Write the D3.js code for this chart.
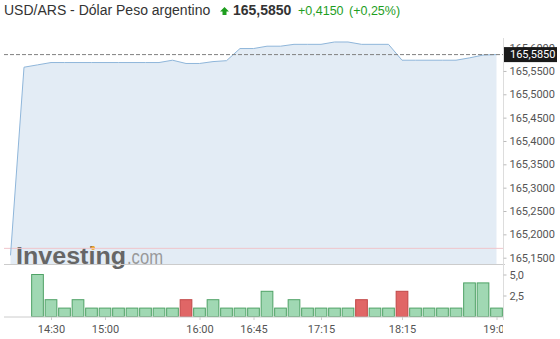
<!DOCTYPE html>
<html>
<head>
<meta charset="utf-8">
<script src="https://cdn.jsdelivr.net/npm/d3@7"></script>
<style>
  body { margin: 0; background: #fff; }
  svg { display: block; }
</style>
</head>
<body>
<script>
// size of the page
const w = 560;
const h = 339;

// data (one point per interval, index based x axis)
const prices = [165.155, 165.558, 165.563, 165.568, 165.568, 165.568, 165.568, 165.568,
  165.568, 165.568, 165.568, 165.568, 165.573, 165.566, 165.566, 165.570, 165.572,
  165.598, 165.598, 165.603, 165.603, 165.607, 165.607, 165.607, 165.612, 165.612,
  165.607, 165.607, 165.607, 165.573, 165.573, 165.573, 165.573, 165.573, 165.578,
  165.584, 165.585];
const volumes = [null, null, 5, 2, 1, 2, 1, 1, 1, 1, 1, 1, 1, 2, 1, 2, 1, 1, 1, 3, 1, 2,
  1, 1, 1, 1, 2, 1, 1, 3, 1, 1, 1, 1, 4, 4, 1];
const timeTicks = [3, 7, 14, 18, 23, 29, 36];
const timeLabels = ["14:30", "15:00", "16:00", "16:45", "17:15", "18:15", "19:00"];
const priceTicks = [165.15, 165.20, 165.25, 165.30, 165.35, 165.40, 165.45, 165.50, 165.55, 165.60];
const volTicks = [2.5, 5.0];
const lastPrice = 165.585;
const prevClose = 165.17;
const title = "USD/ARS - Dólar Peso argentino";
const change = "+0,4150";
const changePct = "(+0,25%)";

const loc = d3.formatLocale({decimal: ",", thousands: ".", grouping: [3], currency: ["", ""]});
const f4 = loc.format(".4f");
const f1 = loc.format(".1f");

const svg = d3.select("body").append("svg")
  .attr("width", w)
  .attr("height", h);

// scales
const left = 4, right = 503;
const x = d3.scaleLinear().domain([0, prices.length - 1]).range([10.5, 496.5]);
const y = d3.scaleLinear().domain([165.15, 165.60]).range([257.7, 47.6]);
const vy = d3.scaleLinear().domain([0, 5]).range([316.5, 274.5]);
const mainBottom = 264;

// header
const head = svg.append("g").style("font-family", "Arial, 'Liberation Sans', sans-serif").style("font-size", "14px");
head.append("text").attr("x", 4).attr("y", 15).attr("fill", "#333").text(title);
head.append("path")
  .attr("d", "M224.5,7 L229,11.5 L226.5,11.5 L226.5,15 L222.5,15 L222.5,11.5 L220,11.5 Z")
  .attr("fill", "#1e9e1e");
head.append("text").attr("x", 233).attr("y", 15).attr("fill", "#333").attr("font-weight", "bold").text(f4(lastPrice));
head.append("text").attr("x", 298).attr("y", 15).attr("fill", "#1e9e1e").style("font-size", "12.5px").text(change);
head.append("text").attr("x", 349).attr("y", 15).attr("fill", "#1e9e1e").style("font-size", "12.5px").text(changePct);

// area + line
const area = d3.area()
  .x((d, i) => x(i))
  .y0(mainBottom)
  .y1(d => y(d));
const line = d3.line()
  .x((d, i) => x(i))
  .y(d => y(d));

svg.append("path")
  .datum(prices)
  .attr("d", area)
  .attr("fill", "#e3ecf5");

// watermark logo
const logo = svg.append("g").style("font-family", "Arial, 'Liberation Sans', sans-serif");
logo.append("text").attr("x", 16).attr("y", 264).attr("font-size", "23px").attr("font-weight", "bold")
  .attr("fill", "#666").attr("textLength", 110).attr("lengthAdjust", "spacingAndGlyphs").text("Investing");
logo.append("text").attr("x", 127).attr("y", 264).attr("font-size", "20px")
  .attr("fill", "#999").attr("textLength", 36).attr("lengthAdjust", "spacingAndGlyphs").text(".com");
logo.append("circle").attr("cx", 93).attr("cy", 248).attr("r", 2).attr("fill", "#f5a623");

// previous close
svg.append("line")
  .attr("x1", left).attr("x2", right)
  .attr("y1", y(prevClose)).attr("y2", y(prevClose))
  .attr("stroke", "#f0c6cb").attr("stroke-width", 1);

svg.append("path")
  .datum(prices)
  .attr("d", line)
  .attr("fill", "none")
  .attr("stroke", "#8fb6da")
  .attr("stroke-width", 1);

// current price dashed line
svg.append("line")
  .attr("x1", left).attr("x2", right)
  .attr("y1", y(lastPrice)).attr("y2", y(lastPrice))
  .attr("stroke", "#808080").attr("stroke-dasharray", "4,2");

// frame lines
svg.append("line").attr("x1", left).attr("x2", 505).attr("y1", mainBottom + 0.5).attr("y2", mainBottom + 0.5).attr("stroke", "#ccc");
svg.append("line").attr("x1", 503.5).attr("x2", 503.5).attr("y1", 38).attr("y2", 320).attr("stroke", "#ddd");

// price axis
const yAxis = d3.axisRight(y).tickValues(priceTicks).tickFormat(f4).tickSize(3).tickPadding(3);
const gy = svg.append("g")
  .attr("transform", "translate(503.5,0)")
  .call(yAxis);
gy.select(".domain").remove();
gy.selectAll("line").attr("stroke", "#bbb");
gy.selectAll("text").attr("fill", "#555").style("font-family", "Roboto, Arial, sans-serif").style("font-size", "11px");

// last price label
const lab = svg.append("g").attr("transform", `translate(504,${y(lastPrice)})`);
lab.append("rect").attr("x", 0).attr("y", -7.5).attr("width", 53).attr("height", 15).attr("fill", "#1a1a1a");
lab.append("text").attr("x", 6).attr("y", 0).attr("dy", "0.35em").attr("fill", "#fff")
  .style("font-family", "Roboto, Arial, sans-serif").style("font-size", "11px").text(f4(lastPrice));

// volume bars
const bw = 11.7;
const vdata = volumes.map((v, i) => ({i: i, v: v, up: i === 0 || prices[i] >= prices[i - 1]}))
  .filter(d => d.v !== null);
svg.selectAll("rect.vol")
  .data(vdata)
  .enter()
  .append("rect")
  .attr("class", "vol")
  .attr("x", d => x(d.i) - bw / 2)
  .attr("y", d => vy(d.v))
  .attr("width", bw)
  .attr("height", d => vy(0) - vy(d.v))
  .attr("fill", d => d.up ? "#a0d8b3" : "#e06666")
  .attr("stroke", d => d.up ? "#4fa266" : "#c14848")
  .attr("stroke-width", 1);

svg.append("line").attr("x1", left).attr("x2", right).attr("y1", vy(0) + 0.5).attr("y2", vy(0) + 0.5).attr("stroke", "#ccc");

const vAxis = d3.axisRight(vy).tickValues(volTicks).tickFormat(f1).tickSize(3).tickPadding(3);
const gv = svg.append("g").attr("transform", "translate(503.5,0)").call(vAxis);
gv.select(".domain").remove();
gv.selectAll("line").attr("stroke", "#bbb");
gv.selectAll("text").attr("fill", "#555").style("font-family", "Roboto, Arial, sans-serif").style("font-size", "11px");

// time axis (clipped like the original)
svg.append("clipPath").attr("id", "clipx")
  .append("rect").attr("x", 0).attr("y", 300).attr("width", 503).attr("height", 39);
const xAxis = d3.axisBottom(x).tickValues(timeTicks).tickFormat((d, i) => timeLabels[i]).tickSize(3).tickPadding(5);
const gx = svg.append("g")
  .attr("clip-path", "url(#clipx)")
  .append("g")
  .attr("transform", `translate(0,${vy(0) + 0.5})`)
  .call(xAxis);
gx.select(".domain").remove();
gx.selectAll("line").attr("stroke", "#ccc");
gx.selectAll("text").attr("fill", "#555").style("font-family", "Roboto, Arial, sans-serif").style("font-size", "11px");
</script>
</body>
</html>
